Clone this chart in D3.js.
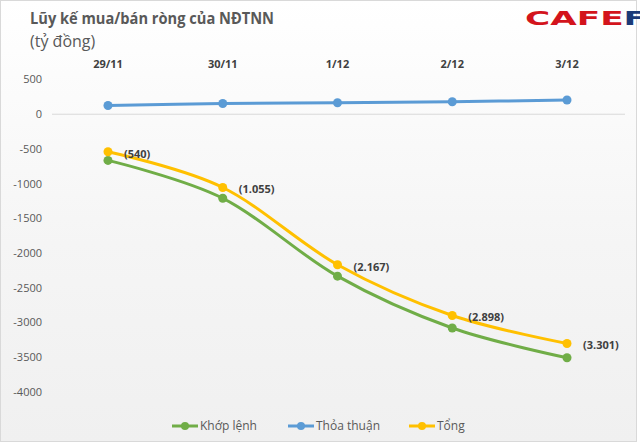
<!DOCTYPE html>
<html>
<head>
<meta charset="utf-8">
<script src="https://cdn.jsdelivr.net/npm/d3@7"></script>
<style>
    body { margin: 0; }
    svg { display: block; font-family: "Open Sans", "Liberation Sans", sans-serif; }
</style>
</head>
<body>
<div id="chart"></div>
<script>
// Data
const dates = ['29/11', '30/11', '1/12', '2/12', '3/12'];
const khopLenh = [-665, -1210, -2332, -3078, -3506];
const thoaThuan = [125, 155, 165, 180, 205];
const tong = [-540, -1055, -2167, -2898, -3301];
const tongLabels = ['(540)', '(1.055)', '(2.167)', '(2.898)', '(3.301)'];
const yTicks = [500, 0, -500, -1000, -1500, -2000, -2500, -3000, -3500, -4000];

const width = 640, height = 444;

const svg = d3.select('#chart')
    .append('svg')
    .attr('width', width)
    .attr('height', height);

// background gradient
const grad = svg.append('defs').append('linearGradient')
    .attr('id', 'bg')
    .attr('x1', 0).attr('y1', 0).attr('x2', 0).attr('y2', 1);
grad.append('stop').attr('offset', '0%').attr('stop-color', '#ffffff');
grad.append('stop').attr('offset', '55%').attr('stop-color', '#f5f5f5');
grad.append('stop').attr('offset', '100%').attr('stop-color', '#f0f0f0');

svg.append('rect')
    .attr('x', 0.5).attr('y', 0.5)
    .attr('width', width - 4).attr('height', height - 3)
    .attr('fill', 'url(#bg)')
    .attr('stroke', '#d9d9d9');

// Title
svg.append('text')
    .attr('x', 30).attr('y', 24)
    .attr('font-size', 16).attr('font-weight', 'bold')
    .attr('fill', '#595959')
    .attr('textLength', 244)
    .attr('lengthAdjust', 'spacingAndGlyphs')
    .text('Lũy kế mua/bán ròng của NĐTNN');

svg.append('text')
    .attr('x', 30).attr('y', 47)
    .attr('font-size', 16)
    .attr('fill', '#595959')
    .text('(tỷ đồng)');

// Logo
const logo = svg.append('text')
    .attr('x', 525).attr('y', 25)
    .attr('font-family', 'DejaVu Sans')
    .attr('font-size', 20).attr('font-weight', 'bold')
    .attr('textLength', 122)
    .attr('lengthAdjust', 'spacingAndGlyphs');
logo.append('tspan').attr('fill', '#d3141c').text('CAFE');
logo.append('tspan').attr('fill', '#1b3a78').text('F');

const x = d3.scalePoint()
    .domain(dates)
    .range([108, 567]);

const y = d3.scaleLinear()
    .domain([-4000, 500])
    .range([392, 79.5]);

// zero line
svg.append('line')
    .attr('x1', 52).attr('x2', 625)
    .attr('y1', y(0)).attr('y2', y(0))
    .attr('stroke', '#d9d9d9')
    .attr('stroke-width', 1);

// y axis labels
svg.append('g')
    .selectAll('text')
    .data(yTicks)
    .enter()
    .append('text')
    .attr('x', 42)
    .attr('y', d => y(d))
    .attr('dy', '0.35em')
    .attr('text-anchor', 'end')
    .attr('font-size', 11)
    .attr('fill', '#595959')
    .text(d => d);

// x axis labels at top
svg.append('g')
    .selectAll('text')
    .data(dates)
    .enter()
    .append('text')
    .attr('x', d => x(d))
    .attr('y', 68)
    .attr('text-anchor', 'middle')
    .attr('font-size', 11)
    .attr('font-weight', 'bold')
    .attr('fill', '#404040')
    .text(d => d);

const series = [
    {name: 'Khớp lệnh', values: khopLenh, color: '#70ad47'},
    {name: 'Thỏa thuận', values: thoaThuan, color: '#5b9bd5'},
    {name: 'Tổng', values: tong, color: '#ffc000'}
];

const line = d3.line()
    .x((d, i) => x(dates[i]))
    .y(d => y(d))
    .curve(d3.curveCatmullRom.alpha(0));

series.forEach(s => {
    svg.append('path')
        .datum(s.values)
        .attr('d', line)
        .attr('fill', 'none')
        .attr('stroke', s.color)
        .attr('stroke-width', 3)
        .attr('stroke-linejoin', 'round');

    svg.selectAll(null)
        .data(s.values)
        .enter()
        .append('circle')
        .attr('cx', (d, i) => x(dates[i]))
        .attr('cy', d => y(d))
        .attr('r', 4.5)
        .attr('fill', s.color);
});

// data labels for Tong
svg.append('g')
    .selectAll('text')
    .data(tong)
    .enter()
    .append('text')
    .attr('x', (d, i) => x(dates[i]) + 16)
    .attr('y', d => y(d) + 2)
    .attr('dy', '0.35em')
    .attr('font-size', 11)
    .attr('font-weight', 'bold')
    .attr('fill', '#404040')
    .text((d, i) => tongLabels[i]);

// legend
const legendX = [172, 288, 409];
const legend = svg.append('g')
    .selectAll('g')
    .data(series)
    .enter()
    .append('g')
    .attr('transform', (d, i) => `translate(${legendX[i]},426)`);

legend.append('line')
    .attr('x1', 0).attr('x2', 26)
    .attr('stroke', d => d.color)
    .attr('stroke-width', 3);

legend.append('circle')
    .attr('cx', 13)
    .attr('r', 4)
    .attr('fill', d => d.color);

legend.append('text')
    .attr('x', 28)
    .attr('dy', '0.35em')
    .attr('font-size', 12)
    .attr('fill', '#595959')
    .text(d => d.name);
</script>
</body>
</html>
